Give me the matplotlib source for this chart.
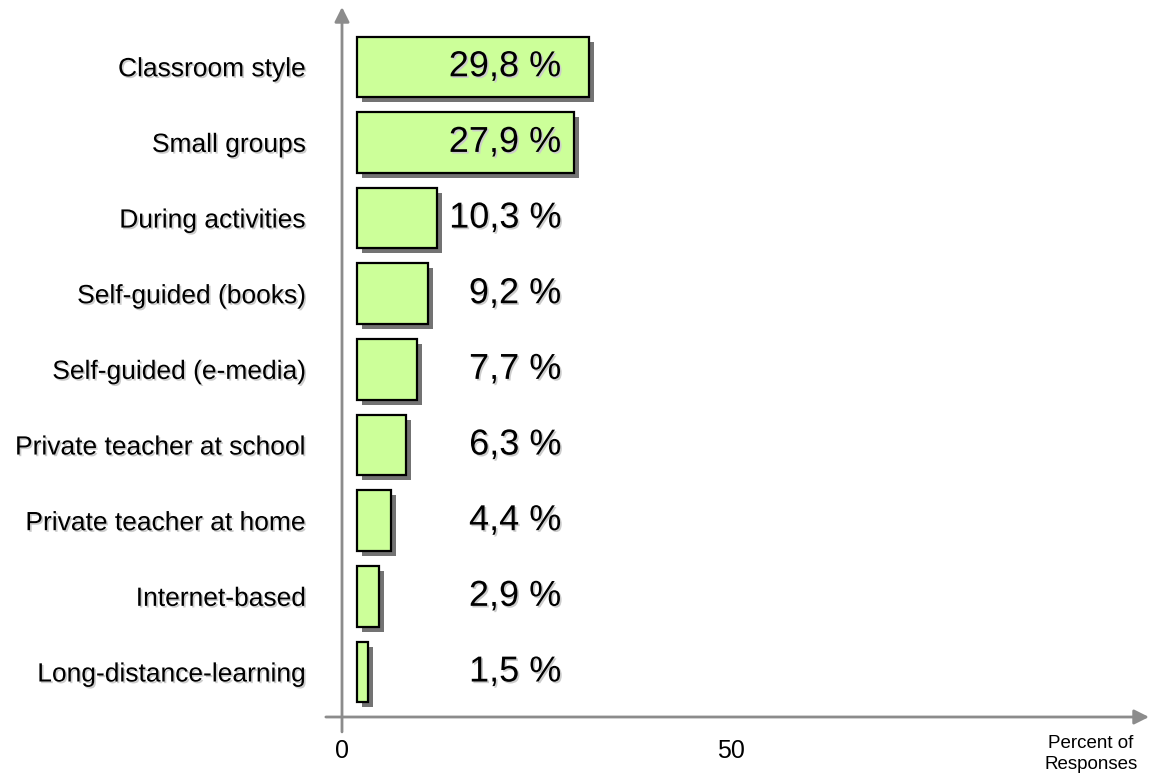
import matplotlib.pyplot as plt
import matplotlib.patheffects as pe

# Survey data: how respondents prefer to learn
categories = ['Classroom style', 'Small groups', 'During activities',
              'Self-guided (books)', 'Self-guided (e-media)',
              'Private teacher at school', 'Private teacher at home',
              'Internet-based', 'Long-distance-learning']
values = [29.8, 27.9, 10.3, 9.2, 7.7, 6.3, 4.4, 2.9, 1.5]
x_ticks = [0, 50]

plt.rcParams['font.family'] = ['Liberation Sans', 'DejaVu Sans']

fig = plt.figure(figsize=(11.49, 7.79), dpi=100)
ax = fig.add_axes([342 / 1149, 62 / 779, 807 / 1149, 710 / 779])

n = len(categories)
ypos = [n - 1 - i for i in range(n)]
bar_left = 1.9

bar_shadow = [pe.SimplePatchShadow(offset=(3.6, -3.6), shadow_rgbFace='0.45', alpha=1), pe.Normal()]
text_shadow = [pe.SimplePatchShadow(offset=(1.2, -1.2), shadow_rgbFace='0.8', alpha=1), pe.Normal()]

bars = ax.barh(ypos, values, left=bar_left, height=0.8, color='#ccff99',
               edgecolor='black', linewidth=1.6)
for b in bars:
    b.set_path_effects(bar_shadow)

# percentage labels, right-aligned in one column
for y, v in zip(ypos, values):
    ax.text(28.2, y, f'{v:.1f} %'.replace('.', ','), ha='right', va='center',
            fontsize=26, color='black', path_effects=text_shadow)

ax.set_xlim(0, 807 / 7.78)
ax.set_ylim(-0.595, n - 1 + 0.79)

ax.set_yticks(ypos)
ax.set_yticklabels(categories, fontsize=19)
for lbl in ax.get_yticklabels():
    lbl.set_path_effects(text_shadow)
ax.tick_params(axis='y', length=0, pad=26)

ax.set_xticks(x_ticks)
ax.set_xticklabels([str(t) for t in x_ticks], fontsize=18)
ax.tick_params(axis='x', length=0, pad=16)

for s in ax.spines.values():
    s.set_visible(False)

# gray arrow axes
arrow = dict(arrowstyle='-|>', color='#8c8c8c', lw=2, mutation_scale=22, shrinkA=0, shrinkB=0)
ax.annotate('', xy=(0, 1), xytext=(0, -0.021), xycoords='axes fraction',
            textcoords='axes fraction', arrowprops=arrow, annotation_clip=False)
ax.annotate('', xy=(1, 0), xytext=(-0.02, 0), xycoords='axes fraction',
            textcoords='axes fraction', arrowprops=arrow, annotation_clip=False)

fig.text(1091 / 1149, 1 - 754 / 779, 'Percent of\nResponses', ha='center', va='center',
         fontsize=13.5, linespacing=1.25)

fig.savefig('out.png', dpi=100)
